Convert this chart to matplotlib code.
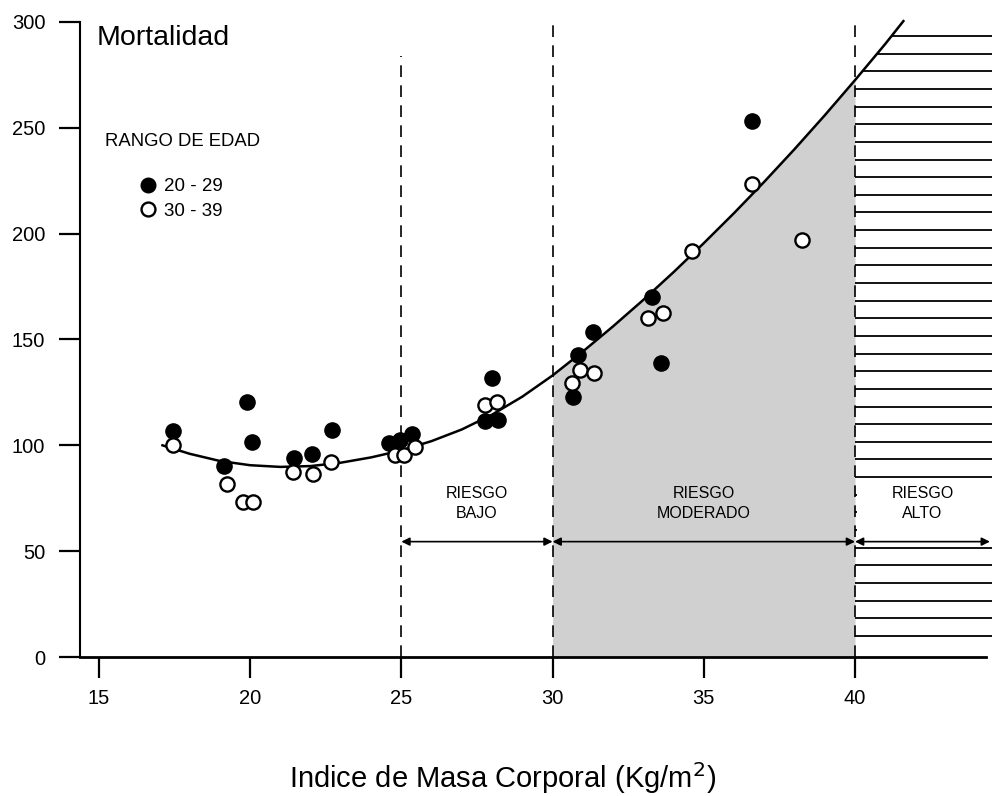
import numpy as np
import matplotlib
matplotlib.use("Agg")
import matplotlib.pyplot as plt
from matplotlib.patches import Rectangle
from matplotlib.lines import Line2D

# Datos
# Curva de ajuste: mortalidad vs IMC
curva_imc = [17.1, 18, 19, 20, 21, 22, 23, 24, 25, 26, 27, 28, 29, 30, 31, 32,
             33, 34, 35, 36, 37, 38, 39, 40, 41, 41.6]
curva_mort = [100, 96, 92.6, 90.6, 89.8, 90.2, 91.8, 94.3, 97.6, 102, 107.5,
              114.5, 123, 133, 144.3, 156.2, 168.7, 181.8, 195.5, 209.7, 224.5,
              239.9, 255.9, 272.5, 289.6, 300.4]

# Rango de edad 20 - 29 (puntos negros)
imc_20 = [17.45, 19.13, 19.9, 20.06, 21.45, 22.04, 22.7, 24.6, 24.95, 25.35,
          28.0, 27.76, 28.2, 30.67, 30.84, 31.34, 33.29, 33.6, 36.6]
mort_20 = [106.8, 90.2, 120.5, 101.6, 94, 95.9, 107.2, 101, 102.5, 105.3,
           131.8, 111.5, 112, 122.8, 142.7, 153.5, 170, 138.9, 253]

# Rango de edad 30 - 39 (puntos blancos)
imc_30 = [17.45, 19.23, 19.76, 20.09, 21.42, 22.08, 22.67, 24.8, 25.1, 25.45,
          27.76, 28.16, 30.64, 30.9, 31.37, 33.15, 33.65, 34.6, 36.6, 38.25]
mort_30 = [100, 81.7, 73.2, 73.2, 87.4, 86.4, 92.1, 95.4, 95.6, 99.2,
           119, 120.5, 129.4, 135.6, 134, 160, 162.5, 191.8, 223.4, 197]

limites_riesgo = [25, 30, 40]
etiquetas_riesgo = ["RIESGO\nBAJO", "RIESGO\nMODERADO", "RIESGO\nALTO"]

x_ticks = [15, 20, 25, 30, 35, 40]
y_ticks = [0, 50, 100, 150, 200, 250, 300]

plt.rcParams['font.family'] = ['Liberation Sans', 'DejaVu Sans']

XMIN, XMAX = 14.372, 44.53
YMAX = 303

fig = plt.figure(figsize=(9.92, 7.96), dpi=100)
ax = fig.add_axes([0.0806, 0.17462, 1 - 0.0806, 0.9804 - 0.17462])
ax.set_xlim(XMIN, XMAX)
ax.set_ylim(0, YMAX)

cx = np.array(curva_imc)
cy = np.array(curva_mort)

# zona gris: riesgo moderado
m = (cx >= 30) & (cx <= 40)
ax.fill_between(cx[m], 0, cy[m], color='#d0d0d0', lw=0, zorder=0)

# zona rayada: riesgo alto (líneas horizontales recortadas bajo la curva)
m = cx >= 40
hx = np.append(cx[m], XMAX)
hy = np.append(cy[m], cy[-1])
poly = ax.fill_between(hx, 0, hy, facecolor='none', lw=0, zorder=0)
niveles = np.arange(10, 303, 300 / 36)
lineas = ax.hlines(niveles, 40, XMAX, colors='black', lw=1.3, zorder=1)
lineas.set_clip_path(poly.get_paths()[0], transform=ax.transData)
ax.add_patch(Rectangle((40.05, 55.5), XMAX - 40.05, 25.5, facecolor='white',
                       edgecolor='none', zorder=2))

# líneas verticales discontinuas
tops = [284, 300, 300]
for xv, top in zip(limites_riesgo, tops):
    ax.plot([xv, xv], [0, top], color='black', lw=1.2, dashes=(7, 5), zorder=3)

# curva
ax.plot(cx, cy, color='black', lw=1.8, zorder=4, clip_on=False)

# puntos
ax.scatter(imc_20, mort_20, s=120, c='black', edgecolors='black', lw=1, zorder=5)
ax.scatter(imc_30, mort_30, s=105, c='white', edgecolors='black', lw=1.7, zorder=6)

# flechas y etiquetas de riesgo
bordes = limites_riesgo + [44.46]
for i, etiqueta in enumerate(etiquetas_riesgo):
    a, b = bordes[i], bordes[i + 1]
    ax.annotate('', xy=(a, 54.5), xytext=(b, 54.5),
                arrowprops=dict(arrowstyle='<|-|>', color='black', lw=1.2,
                                shrinkA=0, shrinkB=0, mutation_scale=12),
                zorder=7)
    ax.text((a + b) / 2, 72.5, etiqueta, ha='center', va='center',
            fontsize=11.5, linespacing=1.45, zorder=7)

# ejes
for s in ['top', 'right']:
    ax.spines[s].set_visible(False)
ax.spines['left'].set_bounds(0, 300)
ax.spines['left'].set_linewidth(1.5)
ax.spines['bottom'].set_bounds(XMIN, 44.33)
ax.spines['bottom'].set_linewidth(2)
ax.set_xticks(x_ticks)
ax.set_yticks(y_ticks)
ax.tick_params(axis='both', direction='out', length=15, width=1.6,
               labelsize=14.5, colors='black')
ax.tick_params(axis='y', pad=10)
ax.tick_params(axis='x', pad=8)

# textos
ax.text(0.0186, 0.965, 'Mortalidad', transform=ax.transAxes, fontsize=20.5,
        ha='left', va='center')
fig.text(0.507, 0.023, 'Indice de Masa Corporal (Kg/m$^2$)', ha='center',
         va='center', fontsize=21)

# leyenda
ax.text(105 / 992, 1 - 142 / 796, 'RANGO DE EDAD', transform=fig.transFigure,
        fontsize=13.3, ha='left', va='center')
h1 = Line2D([], [], ls='none', marker='o', ms=10.5, mfc='black', mec='black')
h2 = Line2D([], [], ls='none', marker='o', ms=10, mfc='white', mec='black', mew=1.7)
ax.legend([h1, h2], ['20 - 29', '30 - 39'], loc='center left',
          bbox_to_anchor=(129 / 992, 1 - 199 / 796),
          bbox_transform=fig.transFigure, frameon=False, fontsize=13.5,
          handlelength=1.0, handletextpad=0.35, labelspacing=0.38, borderpad=0)

fig.savefig('out.png', dpi=100)
